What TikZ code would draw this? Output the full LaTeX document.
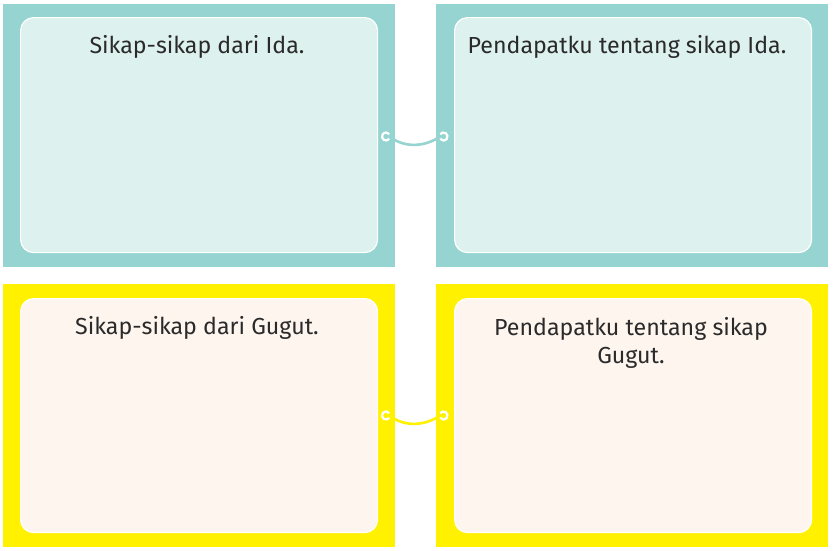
\documentclass[tikz,border=0pt]{standalone}
\usepackage{fontspec}
\setmainfont{Fira Sans}
\definecolor{tealO}{HTML}{95D4D0}
\definecolor{tealI}{HTML}{DDF1EF}
\definecolor{yelO}{HTML}{FFF100}
\definecolor{creamI}{HTML}{FEF5EF}
\definecolor{txt}{HTML}{2A2A2A}
\begin{document}
\begin{tikzpicture}[x=1pt,y=-1pt,
  outerbox/.style={draw=none, inner sep=0pt, anchor=north west, minimum width=392pt, minimum height=263pt},
  innerbox/.style={draw=white, line width=1.2pt, rounded corners=13pt, inner sep=0pt, anchor=north west, minimum width=357pt, minimum height=235pt},
  lbl/.style={text=txt, font=\fontsize{23.2}{28}\selectfont, inner sep=0pt, anchor=base, align=center},
  ring/.style={draw=white, line width=2.2pt},
  wire/.style={line width=2.6pt, line cap=round}
]
\useasboundingbox[fill=white] (0,0) rectangle (835,550);
% outer frames
\node[outerbox, fill=tealO] (o1) at (3,4) {};
\node[outerbox, fill=tealO] (o2) at (436,4) {};
\node[outerbox, fill=yelO] (o3) at (3,284) {};
\node[outerbox, fill=yelO] (o4) at (436,284) {};
% inner panels
\node[innerbox, fill=tealI] (i1) at (20,17) {};
\node[innerbox, fill=tealI] (i2) at (454,17) {};
\node[innerbox, fill=creamI, minimum height=234pt] (i3) at (20,298) {};
\node[innerbox, fill=creamI, minimum height=234pt] (i4) at (454,298) {};
% labels
\node[lbl] (t1) at (197,53) {Sikap-sikap dari Ida.};
\node[lbl] (t2) at (627,53) {Pendapatku tentang sikap Ida.};
\node[lbl] (t3) at (197,334) {Sikap-sikap dari Gugut.};
\node[lbl] (t4) at (631,363) {Pendapatku tentang sikap\\Gugut.};
% connectors
\coordinate (r1) at (386,136.5);
\coordinate (r2) at (443.5,136.5);
\coordinate (a1) at (390,137);
\coordinate (a2) at (439.5,137);
\draw[wire, draw=tealO] (a1) .. controls (405,148) and (424,147) .. (a2);
\draw[ring] (r1) ++(35:4) arc[start angle=35, end angle=325, radius=4];
\draw[ring] (r2) ++(-145:4) arc[start angle=-145, end angle=145, radius=4];
\coordinate (r3) at (386,415.5);
\coordinate (r4) at (443.5,415.5);
\coordinate (a3) at (390,416);
\coordinate (a4) at (439.5,416);
\draw[wire, draw=yelO] (a3) .. controls (405,427) and (424,426) .. (a4);
\draw[ring] (r3) ++(35:4) arc[start angle=35, end angle=325, radius=4];
\draw[ring] (r4) ++(-145:4) arc[start angle=-145, end angle=145, radius=4];
\end{tikzpicture}
\end{document}
